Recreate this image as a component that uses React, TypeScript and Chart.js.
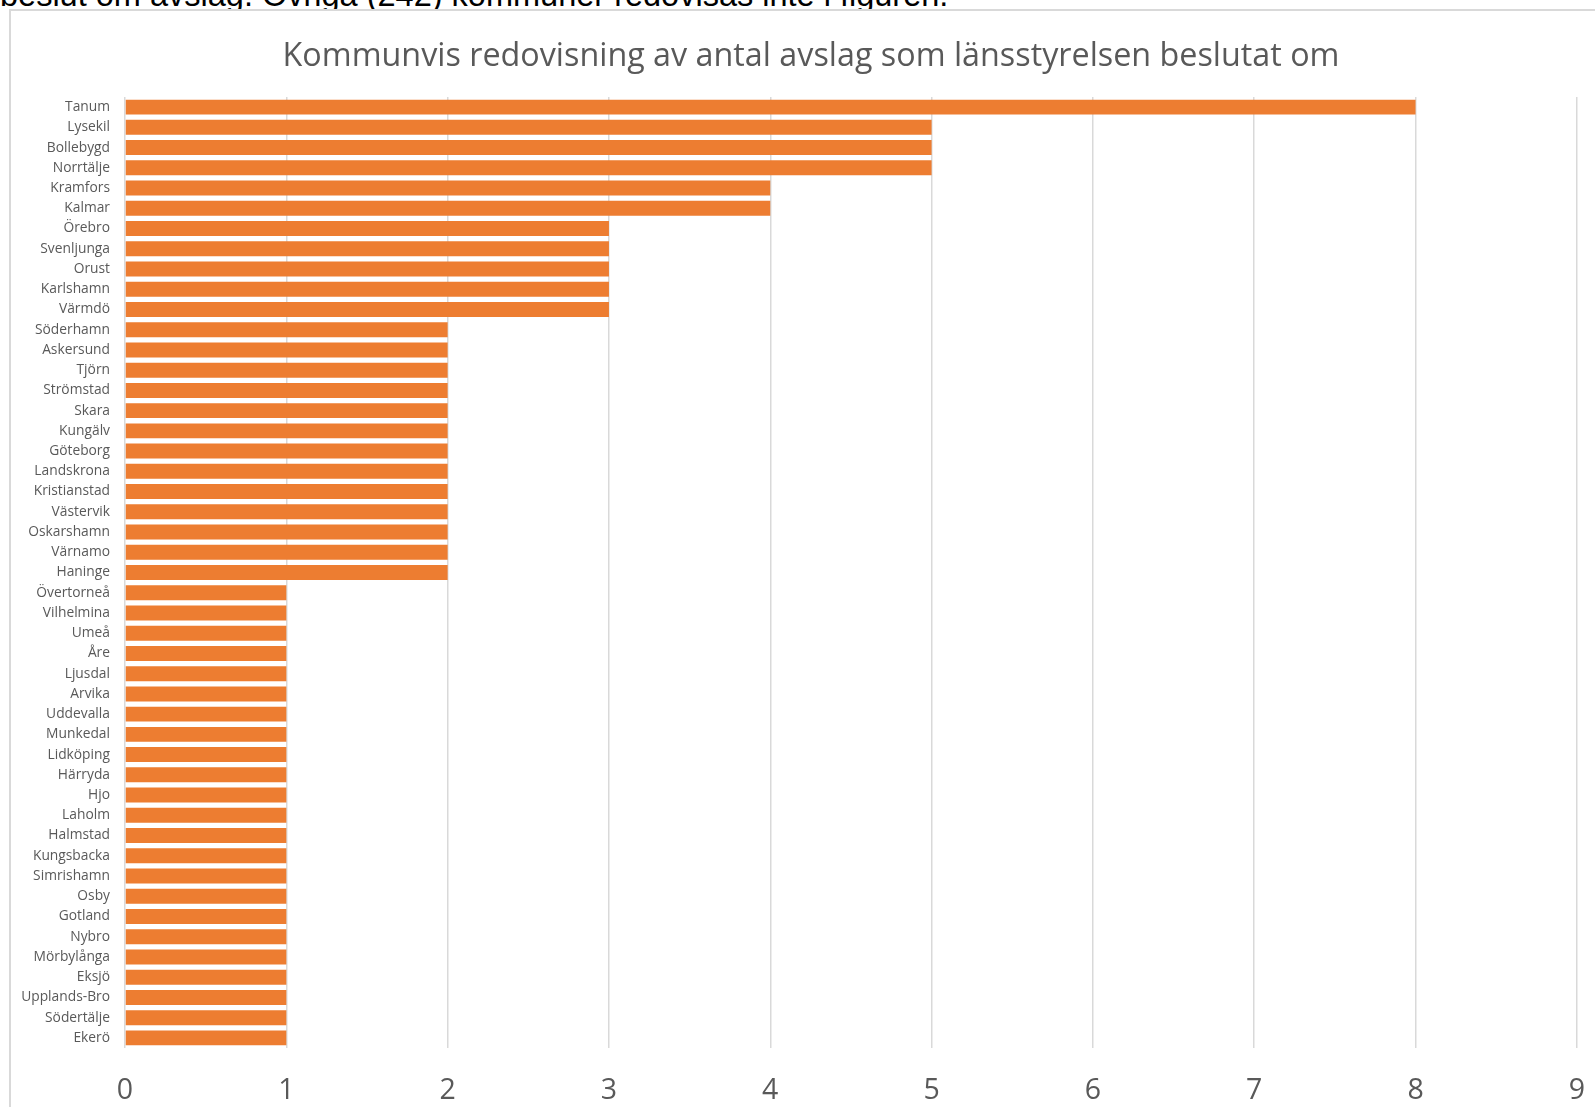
import React, { useEffect, useRef } from "react";
import { Chart, registerables } from "chart.js";

Chart.register(...registerables);

const kommuner: string[] = [
  "Tanum", "Lysekil", "Bollebygd", "Norrtälje", "Kramfors", "Kalmar", "Örebro",
  "Svenljunga", "Orust", "Karlshamn", "Värmdö", "Söderhamn", "Askersund", "Tjörn",
  "Strömstad", "Skara", "Kungälv", "Göteborg", "Landskrona", "Kristianstad",
  "Västervik", "Oskarshamn", "Värnamo", "Haninge", "Övertorneå", "Vilhelmina",
  "Umeå", "Åre", "Ljusdal", "Arvika", "Uddevalla", "Munkedal", "Lidköping",
  "Härryda", "Hjo", "Laholm", "Halmstad", "Kungsbacka", "Simrishamn", "Osby",
  "Gotland", "Nybro", "Mörbylånga", "Eksjö", "Upplands-Bro", "Södertälje", "Ekerö",
];

const avslag: number[] = [
  8, 5, 5, 5, 4, 4, 3,
  3, 3, 3, 3, 2, 2, 2,
  2, 2, 2, 2, 2, 2,
  2, 2, 2, 2, 1, 1,
  1, 1, 1, 1, 1, 1, 1,
  1, 1, 1, 1, 1, 1, 1,
  1, 1, 1, 1, 1, 1, 1,
];

const xTicks: number[] = [0, 1, 2, 3, 4, 5, 6, 7, 8, 9];

const chartTitle = "Kommunvis redovisning av antal avslag som länsstyrelsen beslutat om";
const aboveText = "beslut om avslag. Övriga (242) kommuner redovisas inte i figuren.";

export default function App() {
  const ref = useRef<HTMLCanvasElement | null>(null);

  useEffect(() => {
    document.body.style.overflow = "hidden";
    const canvas = ref.current;
    if (!canvas) return;

    const titlePlugin = {
      id: "customTitle",
      afterDraw(chart: any) {
        const ctx = chart.ctx;
        ctx.save();
        ctx.font = "32.3px 'Open Sans'";
        ctx.fillStyle = "#595959";
        ctx.textAlign = "center";
        ctx.textBaseline = "alphabetic";
        ctx.fillText(chartTitle, 800, 55);
        ctx.restore();
      },
    };

    const chart = new Chart(canvas, {
      type: "bar",
      data: {
        labels: kommuner,
        datasets: [
          {
            data: avslag,
            backgroundColor: "#ED7D31",
            borderWidth: 0,
            barPercentage: 0.74,
            categoryPercentage: 1,
          },
        ],
      },
      options: {
        indexAxis: "y",
        responsive: false,
        animation: false,
        devicePixelRatio: 1,
        layout: { padding: { left: 0, right: 34, top: 86, bottom: 0 } },
        plugins: {
          legend: { display: false },
          title: { display: false },
          tooltip: { enabled: false },
        },
        scales: {
          x: {
            type: "linear",
            min: 0,
            max: 9,
            afterBuildTicks(scale: any) {
              scale.ticks = xTicks.map((v) => ({ value: v }));
            },
            afterFit(scale: any) {
              scale.height = 63;
            },
            grid: {
              color: "#d9d9d9",
              lineWidth: 1.5,
              drawTicks: false,
            },
            border: { display: false },
            ticks: {
              padding: 26,
              color: "#595959",
              font: { family: "'Open Sans'", size: 28.5 },
            },
          },
          y: {
            type: "category",
            offset: true,
            afterFit(scale: any) {
              scale.width = 114;
            },
            grid: { display: false, drawTicks: false },
            border: { display: false },
            ticks: {
              padding: 15,
              autoSkip: false,
              color: "#595959",
              font: { family: "'Open Sans'", size: 13.8 },
            },
          },
        },
      },
      plugins: [titlePlugin],
    });

    return () => {
      chart.destroy();
    };
  }, []);

  return (
    <div
      style={{
        position: "absolute",
        left: 0,
        top: 0,
        width: 1595,
        height: 1107,
        overflow: "hidden",
        background: "#ffffff",
      }}
    >
      <div
        style={{
          position: "absolute",
          left: 0,
          top: -21,
          fontFamily: "'Liberation Sans', Arial, sans-serif",
          fontSize: 32.5,
          lineHeight: "32px",
          color: "#000000",
          whiteSpace: "nowrap",
        }}
      >
        {aboveText}
      </div>
      <div
        style={{
          position: "absolute",
          left: 9,
          top: 9,
          width: 1604,
          height: 1120,
          boxSizing: "border-box",
          border: "2px solid #d9d9d9",
          background: "#ffffff",
        }}
      >
        <canvas
          ref={ref}
          width={1600}
          height={1100}
          style={{ position: "absolute", left: 0, top: 0, width: 1600, height: 1100 }}
        />
      </div>
    </div>
  );
}
